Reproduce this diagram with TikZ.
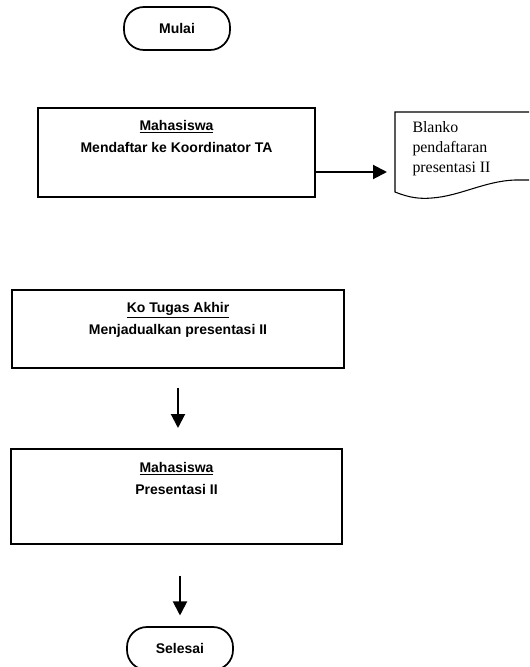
\documentclass[tikz,border=0pt]{standalone}
\usepackage{fontspec}
\setmainfont{Liberation Serif}
\setsansfont{Liberation Sans}
\usetikzlibrary{positioning,arrows.meta}

\tikzset{every picture/.style={line width=0.75pt}}
\tikzset{
  terminal/.style={draw, line width=1.3pt, rounded corners=15pt, minimum width=79.5pt, minimum height=32.25pt, inner sep=0pt, font=\sffamily\bfseries\fontsize{10.5}{12}\selectfont},
  procbox/.style={draw, line width=1.5pt, inner sep=0pt},
  boxtext/.style={inner sep=0pt, text height=8pt, text depth=3pt, font=\sffamily\bfseries\fontsize{10.5}{12}\selectfont},
  doctext/.style={inner sep=0pt, align=left, font=\fontsize{11.9}{15}\selectfont},
  flowarrow/.style={line width=1.5pt, -{Triangle[length=10.5pt, width=10.5pt]}},
}

\begin{document}
\begin{tikzpicture}[x=0.75pt,y=0.75pt,yscale=-1,xscale=1]
\useasboundingbox (0,0) rectangle (529,667);
\clip (0,0) rectangle (529,667);

%Terminator [Mulai]
\node[terminal] (mulai) at (177,28.5) {Mulai};

%Process [Mahasiswa mendaftar]
\node[procbox, minimum width=207.75pt, minimum height=66.75pt] (daftar) at (176.5,152.5) {};
\node[boxtext, below=9.25pt of daftar.north] (daftarrole) {\underline{Mahasiswa}};
\node[boxtext, below=4.75pt of daftarrole] (daftaract) {Mendaftar ke Koordinator TA};

%Document [Blanko]
\draw[line width=0.8pt] (395,192) -- (395,112) -- (540,112) -- (540,180) -- (515,180) .. controls (485,181) and (460,196) .. (432,198) .. controls (420,199) and (410,198) .. (395,192) -- cycle ;
\node[doctext, anchor=north west] (blanko) at (412,121) {Blanko\\pendaftaran\\presentasi II};
\coordinate (blankoin) at (387,172);

%Process [Ko Tugas Akhir]
\node[procbox, minimum width=249pt, minimum height=58.5pt] (jadwal) at (178,329) {};
\node[boxtext, below=9.25pt of jadwal.north] (jadwalrole) {\underline{Ko Tugas Akhir}};
\node[boxtext, below=4.75pt of jadwalrole] (jadwalact) {Menjadualkan presentasi II};

%Process [Mahasiswa presentasi]
\node[procbox, minimum width=248.25pt, minimum height=71.25pt] (presentasi) at (176.5,496.5) {};
\node[boxtext, below=9.75pt of presentasi.north] (presentasirole) {\underline{Mahasiswa}};
\node[boxtext, below=4.75pt of presentasirole] (presentasiact) {Presentasi II};

%Terminator [Selesai]
\node[terminal] (selesai) at (180,648.5) {Selesai};

%Arrows
\draw[flowarrow] (daftar.east |- blankoin) -- (blankoin);
\draw[flowarrow, shorten <=14pt, shorten >=15pt] (jadwal.south) -- (jadwal.south |- presentasi.north);
\draw[flowarrow, shorten <=23pt, shorten >=8pt] (presentasi.south -| selesai.north) -- (selesai.north);

\end{tikzpicture}
\end{document}
